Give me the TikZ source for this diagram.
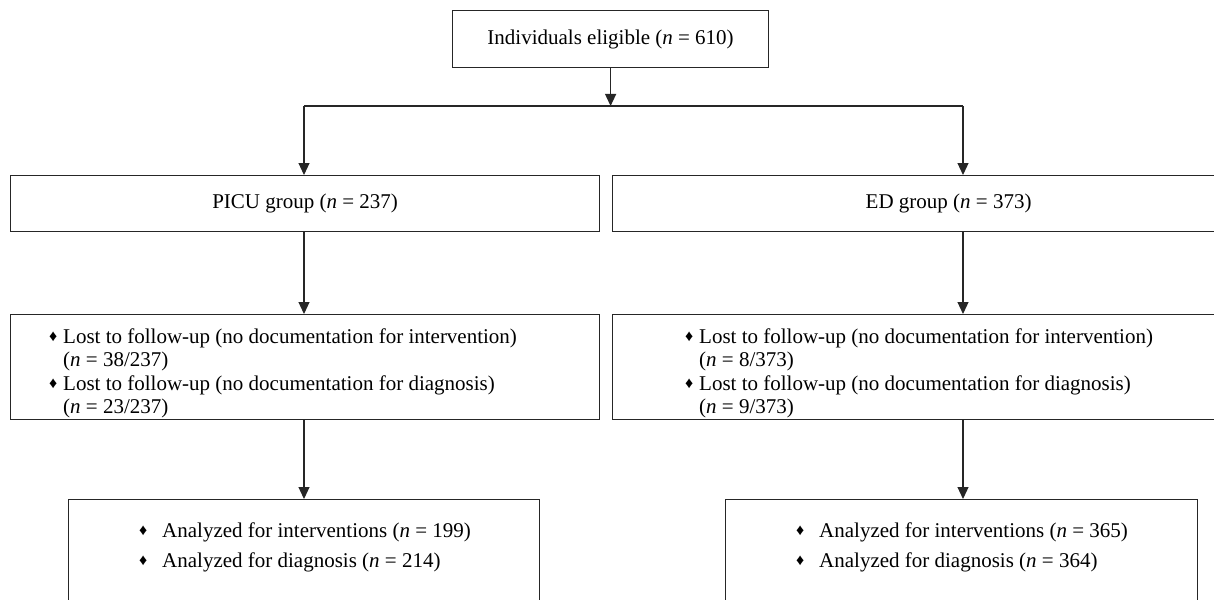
\documentclass[tikz,border=0pt]{standalone}
\usepackage{fontspec}
\setmainfont{Liberation Serif}
\usetikzlibrary{arrows.meta}
\newcommand\dmd{\makebox[6pt]{\raisebox{1.5pt}{\fontsize{16}{16}\selectfont ♦}}}
\begin{document}
\begin{tikzpicture}[x=1pt,y=-1pt,
  box/.style={draw=black!85, line width=1.2pt, inner sep=0pt},
  txt/.style={font=\fontsize{21}{23.5}\selectfont, inner sep=0pt},
  txtb/.style={font=\fontsize{21}{30}\selectfont, inner sep=0pt},
  conn/.style={line width=1.2pt, draw=black!85},
  arr/.style={conn, -{Triangle[width=11pt,length=12pt]}}]
\clip (0,0) rectangle (1214,599);
% top
\node[box, txt, anchor=north west, minimum width=316pt, minimum height=57pt] (top) at (452,10) {Individuals eligible (\textit{n} = 610)};
\coordinate (hl) at (607,106);
\coordinate (hL) at (304,106);
\coordinate (hR) at (963,106);
% groups
\node[box, txt, anchor=north west, minimum width=589pt, minimum height=56pt] (picu) at (10,175) {PICU group (\textit{n} = 237)};
\node[box, txt, anchor=north west, minimum width=672pt, minimum height=56pt] (ed) at (612,175) {ED group (\textit{n} = 373)};
% lost boxes
\node[box, anchor=north west, minimum width=589pt, minimum height=105pt] (plost) at (10,314) {};
\node[box, anchor=north west, minimum width=672pt, minimum height=105pt] (elost) at (612,314) {};
\node[txt, anchor=west] (plostt) at (50,374) {\begin{tabular}{@{}l@{\hspace{7pt}}l@{}}
\dmd & Lost to follow-up (no documentation for intervention)\\
 & (\textit{n} = 38/237)\\
\dmd & Lost to follow-up (no documentation for diagnosis)\\
 & (\textit{n} = 23/237)
\end{tabular}};
\node[txt, anchor=west] (elostt) at (686,374) {\begin{tabular}{@{}l@{\hspace{7pt}}l@{}}
\dmd & Lost to follow-up (no documentation for intervention)\\
 & (\textit{n} = 8/373)\\
\dmd & Lost to follow-up (no documentation for diagnosis)\\
 & (\textit{n} = 9/373)
\end{tabular}};
% analyzed boxes
\node[box, anchor=north west, minimum width=471pt, minimum height=200pt] (pan) at (68,499) {};
\node[box, anchor=north west, minimum width=472pt, minimum height=200pt] (ean) at (725,499) {};
\node[txtb, anchor=west] (pant) at (140,546) {\begin{tabular}{@{}l@{\hspace{16pt}}l@{}}
\dmd & Analyzed for interventions (\textit{n} = 199)\\
\dmd & Analyzed for diagnosis (\textit{n} = 214)
\end{tabular}};
\node[txtb, anchor=west] (eant) at (797,546) {\begin{tabular}{@{}l@{\hspace{16pt}}l@{}}
\dmd & Analyzed for interventions (\textit{n} = 365)\\
\dmd & Analyzed for diagnosis (\textit{n} = 364)
\end{tabular}};
% connectors
\draw[arr] (top.south) -- (top.south |- hl);
\draw[conn] (hL) -- (hR);
\draw[arr] (hL) -- (hL |- picu.north);
\draw[arr] (hR) -- (hR |- ed.north);
\draw[arr] (hL |- picu.south) -- (hL |- plost.north);
\draw[arr] (hR |- ed.south) -- (hR |- elost.north);
\draw[arr] (hL |- plost.south) -- (hL |- pan.north);
\draw[arr] (hR |- elost.south) -- (hR |- ean.north);
\end{tikzpicture}
\end{document}
